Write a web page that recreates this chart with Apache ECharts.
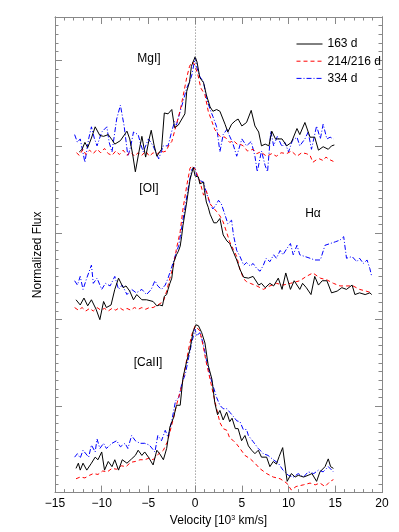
<!DOCTYPE html>
<html>
<head>
<meta charset="utf-8">
<script src="https://cdn.jsdelivr.net/npm/echarts@6/dist/echarts.min.js"></script>
<style>
  html, body { margin: 0; padding: 0; background: #fff; }
  #chart { width: 399px; height: 532px; }
</style>
</head>
<body>
<div id="chart"></div>
<script>
// velocity [10^3 km/s], normalized flux (panels offset)
var seriesNames = ['163 d', '214/216 d', '334 d'];
var xTicks = [-15, -10, -5, 0, 5, 10, 15, 20];

var mgBlack = [[-12.4,3.94],[-12.1,3.97],[-11.8,4.05],[-11.5,3.99],[-11.1,4.10],[-10.7,4.23],[-10.2,4.13],[-9.8,4.12],[-9.3,4.14],[-8.9,4.08],[-8.6,4.03],[-8.0,4.07],[-7.3,4.18],[-7.0,4.09],[-6.7,3.92],[-6.4,3.71],[-6.0,3.95],[-5.7,4.12],[-5.3,3.88],[-4.9,4.10],[-4.7,4.19],[-4.4,4.02],[-4.1,3.89],[-3.6,3.97],[-3.3,4.39],[-2.9,4.38],[-2.5,4.43],[-2.2,4.22],[-1.8,4.25],[-1.6,4.24],[-1.1,4.38],[-0.9,4.64],[-0.6,4.75],[-0.4,4.93],[0.0,5.04],[0.2,4.98],[0.5,4.80],[0.9,4.74],[1.2,4.60],[1.6,4.46],[1.9,4.41],[2.3,4.43],[2.65,4.41],[3.2,4.26],[3.5,4.17],[3.9,4.26],[4.3,4.30],[4.6,4.32],[5.0,4.24],[5.5,4.28],[6.0,4.42],[6.4,4.24],[6.8,4.17],[7.1,4.01],[7.5,4.03],[7.9,4.01],[8.2,4.18],[8.6,4.09],[9.3,4.09],[9.8,4.01],[10.3,4.05],[10.9,4.21],[11.2,4.14],[11.75,4.28],[12.3,4.11],[12.8,4.11],[13.2,3.96],[13.7,4.00],[14.25,3.97],[14.6,4.01],[14.9,4.02]];
var mgRed = [[-12.7,3.93],[-12.4,3.90],[-12.0,3.97],[-11.7,3.91],[-11.3,3.96],[-10.9,3.92],[-10.5,3.97],[-10.1,3.93],[-9.7,3.98],[-9.3,3.92],[-8.9,3.90],[-8.5,3.95],[-8.1,3.91],[-7.7,3.96],[-7.3,3.90],[-6.9,3.94],[-6.5,3.89],[-6.1,3.93],[-5.7,3.90],[-5.3,3.95],[-4.9,3.89],[-4.5,3.93],[-4.1,3.91],[-3.7,3.95],[-3.4,3.94],[-3.1,3.95],[-2.8,4.02],[-2.5,4.06],[-2.2,4.18],[-2.0,4.26],[-1.6,4.42],[-1.3,4.58],[-0.9,4.80],[-0.6,4.93],[-0.35,4.98],[-0.1,4.96],[0.3,4.83],[0.6,4.68],[1.05,4.60],[1.4,4.41],[1.8,4.29],[2.1,4.20],[2.65,4.12],[3.2,4.11],[3.7,4.05],[4.1,4.07],[4.5,4.03],[4.8,4.03],[5.15,4.01],[5.6,3.95],[6.2,3.97],[6.6,3.92],[7.0,3.94],[7.65,3.89],[8.2,3.92],[8.7,3.89],[9.2,3.93],[9.8,3.92],[10.3,3.95],[10.9,3.89],[11.4,3.93],[11.9,3.92],[12.3,3.90],[12.6,3.82],[13.0,3.85],[13.3,3.86],[13.7,3.84],[14.0,3.88],[14.4,3.85],[14.8,3.83]];
var mgBlue = [[-12.9,4.14],[-12.6,4.05],[-12.3,4.09],[-11.8,3.82],[-11.4,4.09],[-11.1,4.23],[-10.8,4.10],[-10.5,4.01],[-10.0,4.17],[-9.45,4.23],[-9.2,4.05],[-8.9,3.94],[-8.4,4.32],[-8.0,4.48],[-7.6,4.24],[-7.2,3.89],[-6.9,4.00],[-6.6,4.17],[-6.1,4.14],[-5.8,4.02],[-5.55,3.94],[-5.0,4.09],[-4.5,4.01],[-3.9,3.86],[-3.4,4.01],[-2.9,4.01],[-2.5,4.18],[-2.2,4.29],[-2.0,4.25],[-1.6,4.41],[-1.3,4.52],[-0.9,4.68],[-0.6,4.75],[-0.35,4.83],[0.0,5.03],[0.2,4.91],[0.5,4.81],[0.9,4.75],[1.2,4.57],[1.6,4.43],[1.9,4.35],[2.3,4.23],[2.65,3.94],[3.0,4.14],[3.4,4.20],[3.7,4.12],[4.0,4.05],[4.45,3.89],[5.0,4.09],[5.5,4.01],[6.0,4.06],[6.4,3.89],[6.65,3.71],[7.1,3.95],[7.5,3.78],[7.75,3.71],[8.1,4.18],[8.4,4.01],[8.8,4.12],[9.3,4.00],[9.6,4.05],[10.0,3.94],[10.4,4.07],[10.9,4.11],[11.2,4.01],[11.75,4.09],[12.1,4.17],[12.45,3.97],[13.0,4.24],[13.4,4.09],[13.7,4.26],[14.1,4.09],[14.45,4.11],[14.8,4.09]];

var oiBlack = [[-12.75,2.23],[-12.3,2.17],[-11.9,2.25],[-11.5,2.16],[-11.1,2.23],[-10.6,2.12],[-10.2,2.00],[-9.8,2.21],[-9.5,2.14],[-9.0,2.17],[-8.6,2.35],[-8.2,2.48],[-7.7,2.37],[-7.4,2.39],[-7.0,2.33],[-6.6,2.23],[-6.25,2.29],[-5.7,2.23],[-5.2,2.23],[-4.5,2.21],[-4.1,2.16],[-3.8,2.17],[-3.5,2.16],[-3.3,2.27],[-3.05,2.29],[-2.9,2.35],[-2.7,2.42],[-2.5,2.48],[-2.3,2.66],[-2.0,2.75],[-1.8,2.79],[-1.6,2.85],[-1.45,2.96],[-1.3,3.09],[-0.9,3.36],[-0.55,3.62],[-0.2,3.76],[0.0,3.66],[0.35,3.65],[0.5,3.57],[0.9,3.59],[1.0,3.49],[1.2,3.36],[1.4,3.30],[1.6,3.22],[2.0,3.12],[2.3,3.12],[2.65,3.17],[3.0,2.98],[3.4,2.91],[3.7,2.88],[4.1,2.78],[4.45,2.69],[4.8,2.58],[5.2,2.49],[5.7,2.48],[6.2,2.50],[6.8,2.40],[7.1,2.42],[7.5,2.37],[8.0,2.42],[8.4,2.39],[8.9,2.48],[9.3,2.35],[9.7,2.54],[10.2,2.35],[10.6,2.45],[11.2,2.35],[11.5,2.42],[11.9,2.37],[12.4,2.29],[12.8,2.50],[13.2,2.40],[13.6,2.45],[14.1,2.45],[14.6,2.31],[15.2,2.33],[15.7,2.37],[16.2,2.35],[16.8,2.40],[17.1,2.29],[17.6,2.31],[18.2,2.29],[18.7,2.31],[18.9,2.29]];
var oiRed = [[-12.9,2.14],[-12.5,2.11],[-12.1,2.14],[-11.7,2.10],[-11.3,2.13],[-10.9,2.10],[-10.5,2.14],[-10.1,2.11],[-9.7,2.13],[-9.3,2.10],[-8.9,2.13],[-8.5,2.11],[-8.1,2.14],[-7.7,2.11],[-7.3,2.13],[-6.9,2.11],[-6.5,2.14],[-6.1,2.12],[-5.7,2.14],[-5.3,2.12],[-4.9,2.14],[-4.5,2.14],[-4.0,2.17],[-3.4,2.21],[-3.05,2.33],[-2.7,2.48],[-2.3,2.63],[-2.0,2.82],[-1.6,3.02],[-1.3,3.28],[-0.9,3.55],[-0.55,3.75],[-0.35,3.78],[0.0,3.74],[0.5,3.60],[0.9,3.44],[1.2,3.49],[1.6,3.34],[1.9,3.30],[2.3,3.25],[2.65,3.20],[3.0,3.13],[3.4,3.00],[3.7,2.90],[4.1,2.81],[4.45,2.73],[4.8,2.58],[5.2,2.47],[5.5,2.44],[5.9,2.42],[6.6,2.39],[7.3,2.35],[8.0,2.39],[8.7,2.42],[9.4,2.40],[10.2,2.42],[11.2,2.45],[11.9,2.50],[12.6,2.54],[13.4,2.48],[14.1,2.46],[14.8,2.42],[15.5,2.39],[16.2,2.39],[16.9,2.39],[17.6,2.35],[18.3,2.33],[18.9,2.31]];
var oiBlue = [[-12.9,2.45],[-12.6,2.40],[-12.3,2.50],[-12.0,2.35],[-11.6,2.48],[-11.1,2.63],[-10.9,2.42],[-10.5,2.48],[-10.0,2.35],[-9.6,2.42],[-9.1,2.39],[-8.6,2.50],[-8.2,2.35],[-7.8,2.40],[-7.3,2.29],[-6.8,2.35],[-6.3,2.31],[-5.7,2.35],[-5.2,2.29],[-4.7,2.35],[-4.3,2.45],[-4.0,2.39],[-3.6,2.35],[-3.2,2.40],[-2.9,2.48],[-2.5,2.61],[-2.1,2.75],[-1.75,2.86],[-1.4,3.09],[-1.05,3.32],[-0.7,3.55],[-0.35,3.74],[0.0,3.76],[0.2,3.65],[0.5,3.61],[0.9,3.59],[1.2,3.47],[1.6,3.34],[1.9,3.28],[2.3,3.34],[2.5,3.38],[2.8,3.34],[3.2,3.21],[3.5,3.11],[3.9,3.15],[4.1,2.98],[4.45,2.80],[4.8,2.73],[5.2,2.63],[5.5,2.66],[5.9,2.62],[6.2,2.65],[6.6,2.59],[6.95,2.56],[7.3,2.63],[7.6,2.71],[8.0,2.67],[8.4,2.75],[8.7,2.71],[9.1,2.80],[9.4,2.75],[9.8,2.82],[10.2,2.88],[10.5,2.75],[10.9,2.86],[11.2,2.75],[11.75,2.73],[12.3,2.71],[12.8,2.69],[13.4,2.69],[13.9,2.86],[14.45,2.88],[15.0,2.90],[15.5,2.92],[15.9,2.96],[16.2,2.71],[16.8,2.73],[17.3,2.67],[17.6,2.71],[18.0,2.65],[18.4,2.69],[18.7,2.59],[18.9,2.50]];

var caBlack = [[-12.75,0.28],[-12.5,0.34],[-12.3,0.26],[-12.0,0.34],[-11.6,0.26],[-11.1,0.34],[-10.7,0.41],[-10.4,0.38],[-10.0,0.47],[-9.7,0.26],[-9.3,0.36],[-8.9,0.30],[-8.6,0.38],[-8.2,0.26],[-7.8,0.38],[-7.3,0.34],[-6.8,0.39],[-6.4,0.43],[-6.1,0.49],[-5.7,0.43],[-5.4,0.47],[-5.0,0.41],[-4.5,0.32],[-4.1,0.49],[-3.8,0.45],[-3.4,0.38],[-3.05,0.51],[-2.7,0.76],[-2.3,0.87],[-2.0,1.01],[-1.6,1.01],[-1.3,1.33],[-0.9,1.52],[-0.55,1.66],[-0.2,1.87],[0.1,1.94],[0.35,1.93],[0.7,1.85],[1.05,1.73],[1.4,1.47],[1.8,1.31],[2.1,1.04],[2.4,0.90],[2.65,0.95],[3.0,0.84],[3.37,0.93],[3.7,0.82],[3.95,0.86],[4.3,0.74],[4.6,0.74],[4.97,0.60],[5.33,0.66],[5.7,0.54],[6.05,0.49],[6.4,0.45],[6.76,0.49],[7.1,0.41],[7.65,0.41],[8.0,0.30],[8.36,0.36],[8.7,0.33],[9.0,0.42],[9.37,0.52],[9.85,0.13],[10.3,0.22],[10.7,0.18],[11.04,0.20],[11.6,0.18],[12.1,0.20],[12.5,0.22],[13.0,0.13],[13.36,0.24],[13.9,0.30],[14.25,0.39],[14.5,0.30],[14.8,0.28]];
var caRed = [[-12.75,0.16],[-12.3,0.18],[-11.8,0.17],[-11.3,0.20],[-10.9,0.22],[-10.4,0.21],[-9.9,0.25],[-9.4,0.24],[-8.9,0.28],[-8.4,0.27],[-7.9,0.31],[-7.4,0.30],[-6.9,0.35],[-6.4,0.36],[-5.9,0.38],[-5.4,0.38],[-4.9,0.40],[-4.5,0.38],[-4.0,0.44],[-3.4,0.49],[-3.0,0.58],[-2.7,0.70],[-2.3,0.87],[-2.0,1.01],[-1.4,1.25],[-1.05,1.45],[-0.7,1.66],[-0.35,1.83],[0.0,1.93],[0.15,1.95],[0.5,1.87],[0.85,1.70],[1.2,1.50],[1.6,1.31],[1.9,1.16],[2.3,0.97],[2.65,0.81],[3.0,0.74],[3.4,0.72],[3.7,0.63],[4.1,0.60],[4.45,0.56],[4.8,0.51],[5.33,0.43],[5.9,0.39],[6.4,0.34],[6.9,0.28],[7.65,0.22],[8.36,0.18],[9.1,0.16],[9.8,0.11],[10.3,0.03],[10.8,0.07],[11.6,0.09],[12.3,0.11],[12.85,0.09],[13.36,0.11],[13.9,0.07],[14.45,0.13],[14.8,0.15]];
var caBlue = [[-12.9,0.41],[-12.6,0.45],[-12.3,0.40],[-12.0,0.49],[-11.4,0.41],[-11.1,0.55],[-10.7,0.47],[-10.5,0.62],[-10.2,0.51],[-9.8,0.57],[-9.5,0.51],[-8.9,0.57],[-8.4,0.60],[-8.0,0.53],[-7.5,0.57],[-7.2,0.51],[-6.8,0.66],[-6.4,0.60],[-5.9,0.57],[-5.4,0.57],[-4.9,0.55],[-4.3,0.47],[-4.0,0.66],[-3.6,0.60],[-3.2,0.72],[-2.9,0.64],[-2.5,0.83],[-2.1,1.06],[-1.75,1.10],[-1.4,1.27],[-1.05,1.37],[-0.7,1.56],[-0.35,1.74],[0.0,1.89],[0.15,1.81],[0.5,1.85],[0.85,1.73],[1.2,1.54],[1.6,1.35],[1.9,1.24],[2.3,1.10],[2.65,1.01],[3.0,0.97],[3.4,0.97],[3.7,0.93],[4.1,0.88],[4.45,0.83],[4.8,0.82],[5.15,0.73],[5.5,0.73],[5.7,0.66],[6.2,0.59],[6.76,0.51],[7.3,0.45],[7.8,0.43],[8.36,0.38],[8.9,0.34],[9.4,0.26],[9.97,0.20],[10.5,0.18],[11.04,0.22],[11.6,0.18],[12.1,0.24],[12.7,0.22],[13.2,0.26],[13.7,0.24],[14.25,0.30],[14.8,0.24]];

var lineStyles = [
  { color: '#000000', width: 1, type: 'solid' },
  { color: '#ff0000', width: 1, type: [4, 3] },
  { color: '#0000ff', width: 1, type: [5, 2, 1, 2] }
];

var FONT = 'Liberation Sans, Arial, sans-serif';
var AXIS_COLOR = '#888';

function spectrum(name, data, idx) {
  return {
    name: name,
    type: 'line',
    data: data,
    symbol: 'none',
    showSymbol: false,
    lineStyle: lineStyles[idx],
    itemStyle: { color: lineStyles[idx].color },
    z: 3 - idx
  };
}

function frameX(pos, showLabels) {
  return {
    type: 'value',
    position: pos,
    min: -15, max: 20, interval: 5,
    axisLine: { show: true, onZero: false, lineStyle: { color: AXIS_COLOR, width: 1 } },
    axisTick: { show: true, inside: true, length: 7, lineStyle: { color: AXIS_COLOR } },
    minorTick: { show: true, splitNumber: 5, length: 3.5, lineStyle: { color: AXIS_COLOR } },
    splitLine: { show: false },
    axisLabel: {
      show: showLabels, margin: 5, fontSize: 12, color: '#000', fontFamily: FONT,
      formatter: function (v) { return xTicks.indexOf(v) >= 0 ? String(v).replace('-', '\u2212') : ''; }
    }
  };
}

function frameY(pos, interval, len, extra) {
  var ax = {
    type: 'value',
    position: pos,
    min: 0, max: 5.5, interval: interval,
    axisLine: { show: true, onZero: false, lineStyle: { color: AXIS_COLOR, width: 1 } },
    axisTick: { show: true, inside: true, length: len, lineStyle: { color: AXIS_COLOR } },
    splitLine: { show: false },
    axisLabel: { show: false }
  };
  return Object.assign(ax, extra || {});
}

var chart = echarts.init(document.getElementById('chart'));

var series = [
  spectrum(seriesNames[0], mgBlack, 0),
  spectrum(seriesNames[1], mgRed, 1),
  spectrum(seriesNames[2], mgBlue, 2),
  spectrum(seriesNames[0], oiBlack, 0),
  spectrum(seriesNames[1], oiRed, 1),
  spectrum(seriesNames[2], oiBlue, 2),
  spectrum(seriesNames[0], caBlack, 0),
  spectrum(seriesNames[1], caRed, 1),
  spectrum(seriesNames[2], caBlue, 2)
];
series[0].markLine = {
  silent: true,
  symbol: 'none',
  label: { show: false },
  lineStyle: { color: '#777', type: [1, 2], width: 1 },
  data: [{ xAxis: 0 }]
};

chart.setOption({
  animation: false,
  backgroundColor: '#fff',
  textStyle: { fontFamily: FONT },
  grid: { left: 55, right: 17, top: 17, bottom: 36 },
  legend: {
    data: seriesNames,
    orient: 'vertical',
    left: 296, top: 38,
    padding: 0,
    itemWidth: 26, itemHeight: 12, itemGap: 5.2,
    selectedMode: false,
    itemStyle: { opacity: 0 },
    lineStyle: { width: 1 },
    textStyle: { fontSize: 12, color: '#000', fontFamily: FONT }
  },
  xAxis: [
    Object.assign(frameX('bottom', true), {
      name: 'Velocity [10{sup|3} km/s]',
      nameLocation: 'middle',
      nameGap: 17,
      nameTextStyle: {
        fontSize: 12, color: '#000', fontFamily: FONT,
        rich: { sup: { fontSize: 7, verticalAlign: 'top', padding: [0, 0, 6, 0], color: '#000' } }
      }
    }),
    frameX('top', false)
  ],
  yAxis: [
    frameY('left', 1, 7, {
      name: 'Normalized Flux',
      nameLocation: 'middle',
      nameGap: 11,
      nameRotate: 90,
      nameTextStyle: { fontSize: 12, color: '#000', fontFamily: FONT }
    }),
    frameY('left', 0.1, 3.5),
    frameY('right', 1, 7),
    frameY('right', 0.1, 3.5)
  ],
  graphic: [
    { type: 'text', x: 149, y: 59, style: { text: 'MgI]', align: 'center', verticalAlign: 'middle', font: '12px ' + FONT, fill: '#000' } },
    { type: 'text', x: 149, y: 189, style: { text: '[OI]', align: 'center', verticalAlign: 'middle', font: '12px ' + FONT, fill: '#000' } },
    { type: 'text', x: 313, y: 214, style: { text: 'H\u03b1', align: 'center', verticalAlign: 'middle', font: '12px ' + FONT, fill: '#000' } },
    { type: 'text', x: 148, y: 363, style: { text: '[CaII]', align: 'center', verticalAlign: 'middle', font: '12px ' + FONT, fill: '#000' } }
  ],
  series: series
});
</script>
</body>
</html>
